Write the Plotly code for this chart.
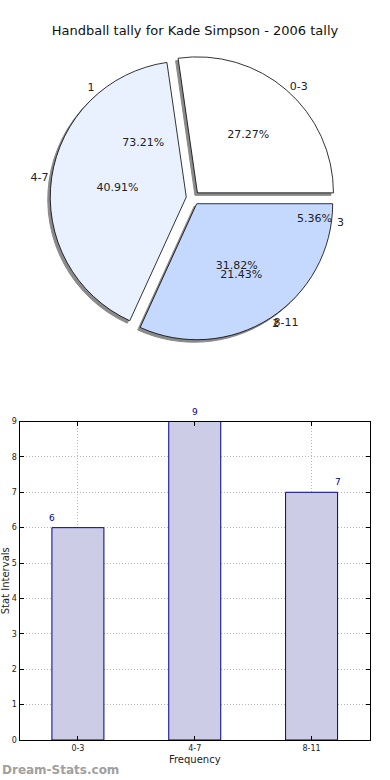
import plotly.graph_objects as go

# ---- data ----
title = "Handball tally for Kade Simpson - 2006 tally"
pie_a_labels = ["0-3", "4-7", "8-11"]
pie_a_values = [6, 9, 7]
pie_b_labels = ["1", "2", "3"]
pie_b_values = [41, 12, 3]
bar_categories = ["0-3", "4-7", "8-11"]
bar_values = [6, 9, 7]
value_label_shift = [-26, 0, 26]

W, H = 390, 780
FONT = "DejaVu Sans"


def px(X):
    return X / W


def py(Y):
    return 1 - Y / H


pie_colors = ["#ffffff", "#eaf1fe", "#c5d9fe"]
pull = [0.05, 0.05, 0.05]

cx, cy, r = 193, 198, 136
half = r * 1.05
dom_x = [px(cx - half), px(cx + half)]
dom_y = [py(cy + half), py(cy - half)]
sh = 2.5
shadow_x = [px(cx - half - sh), px(cx + half - sh)]
shadow_y = [py(cy + half + sh), py(cy - half + sh)]


def rot(values):
    # first wedge starts at 3 o'clock and runs counterclockwise (matplotlib style)
    return 90 - 360.0 * values[0] / sum(values)


def common(values):
    return dict(sort=False, direction="counterclockwise", rotation=rot(values),
                pull=pull, showlegend=False, hoverinfo="skip")


fig = go.Figure()

# shadow
fig.add_trace(go.Pie(labels=pie_a_labels, values=pie_a_values, domain=dict(x=shadow_x, y=shadow_y),
                     marker=dict(colors=["#8a8a8a"] * 3, line=dict(color="#8a8a8a", width=1)),
                     textinfo="none", **common(pie_a_values)))
# main pie
fig.add_trace(go.Pie(labels=pie_a_labels, values=pie_a_values, domain=dict(x=dom_x, y=dom_y),
                     marker=dict(colors=pie_colors, line=dict(color="black", width=0.8)),
                     texttemplate="%{percent:.2%}", textposition="inside",
                     insidetextorientation="horizontal",
                     textfont=dict(family=FONT, size=11, color="#222"), **common(pie_a_values)))
# second pie: transparent, percentages only
fig.add_trace(go.Pie(labels=pie_b_labels, values=pie_b_values, domain=dict(x=dom_x, y=dom_y),
                     marker=dict(colors=["rgba(0,0,0,0)"] * 3, line=dict(width=0)),
                     texttemplate="%{percent:.2%}", textposition="inside",
                     insidetextorientation="horizontal",
                     textfont=dict(family=FONT, size=11, color="#222"), **common(pie_b_values)))
# outside labels
for labs, vals in [(pie_a_labels, pie_a_values), (pie_b_labels, pie_b_values)]:
    fig.add_trace(go.Pie(labels=labs, values=vals, domain=dict(x=dom_x, y=dom_y),
                         marker=dict(colors=["rgba(0,0,0,0)"] * 3, line=dict(width=0)),
                         texttemplate="%{label}", textposition="outside",
                         textfont=dict(family=FONT, size=11, color="#222"), **common(vals)))

# bar chart
fig.add_trace(go.Bar(x=list(range(len(bar_categories))), y=bar_values, width=0.445,
                     marker=dict(color="#cccce6", line=dict(color="#00008b", width=1)),
                     showlegend=False, hoverinfo="skip", xaxis="x", yaxis="y"))

for i, v in enumerate(bar_values):
    fig.add_annotation(x=i, y=v, xref="x", yref="y", text=str(v), showarrow=False,
                       yanchor="bottom", yshift=3, xshift=value_label_shift[i],
                       font=dict(family=FONT, size=9, color="#00008b"))

grid = dict(showgrid=True, gridcolor="#b8b8b8", griddash="1px,2px", gridwidth=1)

fig.update_layout(
    width=W, height=H, margin=dict(l=0, r=0, t=0, b=0, autoexpand=False),
    paper_bgcolor="white", plot_bgcolor="white",
    font=dict(family=FONT, color="#222"),
    title=dict(text=title, x=px(195), xanchor="center", y=py(30), yanchor="middle",
               font=dict(family=FONT, size=13, color="#111")),
    xaxis=dict(domain=[px(19.5), px(370)], range=[-0.5, 2.5], automargin=False,
               tickvals=list(range(len(bar_categories))), ticktext=bar_categories,
               tickfont=dict(size=8, family=FONT), ticks="inside", ticklen=4, tickcolor="black",
               showline=True, linecolor="black", linewidth=1, mirror="ticks",
               zeroline=False, fixedrange=True, **grid,
               title=dict(text="Frequency", font=dict(size=10, family=FONT), standoff=4)),
    yaxis=dict(domain=[py(740), py(421.5)], range=[0, 9], dtick=1, automargin=False,
               tickfont=dict(size=8, family=FONT), ticks="inside", ticklen=4, tickcolor="black",
               showline=True, linecolor="black", linewidth=1, mirror="ticks",
               zeroline=False, fixedrange=True, **grid,
               title=dict(text="Stat Intervals", font=dict(size=10, family=FONT), standoff=2)),
    annotations=list(fig.layout.annotations) + [
        dict(text="<b>Dream-Stats.com</b>", x=px(0), y=py(770), xref="paper", yref="paper",
             xanchor="left", yanchor="middle", showarrow=False,
             font=dict(family=FONT, size=12, color="#a0a0a0"))
    ],
)

fig.write_html("out.html", config={"displayModeBar": False},
               post_script="document.body.style.margin='0';")
